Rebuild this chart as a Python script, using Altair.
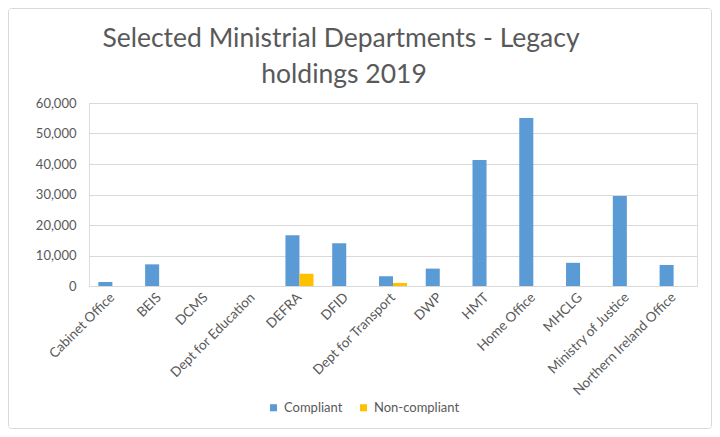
import altair as alt
import pandas as pd

departments = ["Cabinet Office", "BEIS", "DCMS", "Dept for Education", "DEFRA", "DFID",
               "Dept for Transport", "DWP", "HMT", "Home Office", "MHCLG",
               "Ministry of Justice", "Northern Ireland Office"]
compliant = [1300, 7100, 0, 0, 16600, 14000, 3200, 5700, 41300, 55100, 7600, 29500, 6900]
non_compliant = [0, 0, 0, 0, 4000, 0, 1000, 0, 0, 0, 0, 0, 0]
series = ["Compliant", "Non-compliant"]
colors = ["#5B9BD5", "#FFC000"]
y_ticks = [0, 10000, 20000, 30000, 40000, 50000, 60000]
title_lines = ["Selected Ministrial Departments - Legacy", "holdings 2019"]

rows = []
for d, c, n in zip(departments, compliant, non_compliant):
    rows.append({"dept": d, "series": series[0], "value": c})
    rows.append({"dept": d, "series": series[1], "value": n})
df = pd.DataFrame(rows)

FONT = "Lato"
GREY = "#595959"

bars = alt.Chart(df).mark_bar().encode(
    x=alt.X("dept:N", sort=departments,
            scale=alt.Scale(paddingInner=0.40, paddingOuter=0.20),
            axis=alt.Axis(title=None, labelAngle=-45, labelFontSize=13.5, labelColor=GREY,
                          labelFont=FONT, ticks=False, domainColor="#D9D9D9",
                          labelPadding=9, labelAlign="right", labelBaseline="middle")),
    xOffset=alt.XOffset("series:N", sort=series,
                        scale=alt.Scale(paddingInner=0, paddingOuter=0)),
    y=alt.Y("value:Q", scale=alt.Scale(domain=[0, 60000], nice=False),
            axis=alt.Axis(title=None, values=y_ticks, format=",.0f", domain=False, ticks=False,
                          gridColor="#D9D9D9", labelFontSize=13, labelColor=GREY,
                          labelFont=FONT, labelPadding=13)),
    color=alt.Color("series:N", scale=alt.Scale(domain=series, range=colors),
                    legend=alt.Legend(title=None, orient="none", direction="horizontal",
                                      legendX=178, legendY=298, symbolType="square",
                                      symbolSize=50, symbolStrokeWidth=0,
                                      labelFontSize=13, labelColor=GREY, labelFont=FONT,
                                      columnPadding=14, labelOffset=4)),
)

border = alt.Chart(alt.Data(values=[{"k": 1}])).mark_rect(
    fill="transparent", stroke="#D9D9D9", strokeWidth=1, cornerRadius=3
).encode(x=alt.value(-80.5), x2=alt.value(622.5), y=alt.value(-94.5), y2=alt.value(325.5))

title1 = alt.Chart(alt.Data(values=[{"t": title_lines[0]}])).mark_text(
    font=FONT, fontSize=26.5, color=GREY, align="center", baseline="alphabetic"
).encode(text="t:N", x=alt.value(252), y=alt.value(-56))

title2 = alt.Chart(alt.Data(values=[{"t": title_lines[1]}])).mark_text(
    font=FONT, fontSize=26.5, color=GREY, align="center", baseline="alphabetic"
).encode(text="t:N", x=alt.value(255), y=alt.value(-20))

chart = alt.layer(border, bars, title1, title2).properties(
    width=608, height=183,
    padding={"left": 81, "top": 95, "right": 15, "bottom": 143},
    autosize=alt.AutoSizeParams(type="none"),
).configure_view(stroke=None).configure(background="white")

chart.save("out.html", embed_options={"renderer": "svg", "actions": False})
